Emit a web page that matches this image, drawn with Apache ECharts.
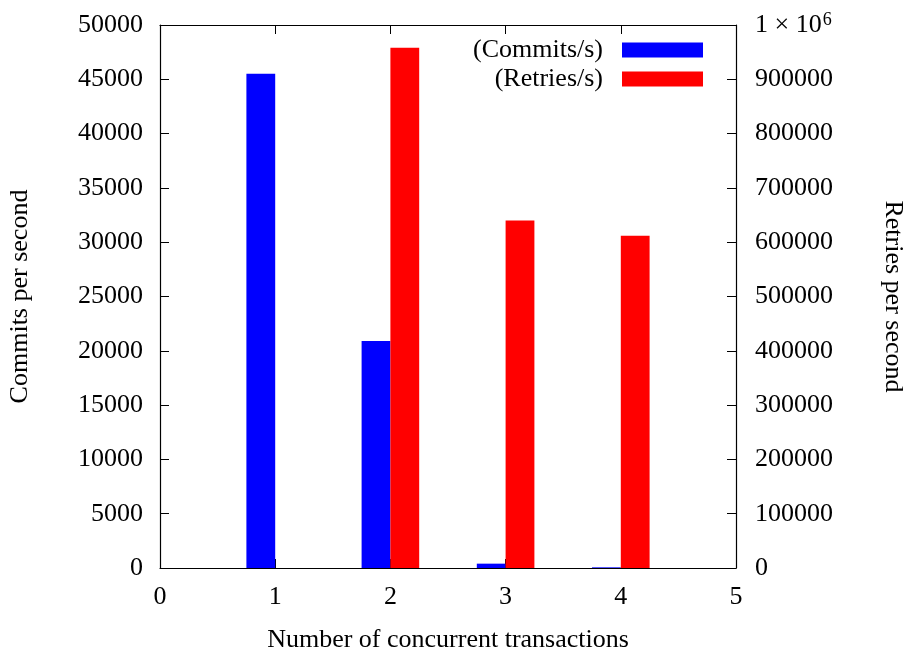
<!DOCTYPE html>
<html>
<head>
<meta charset="utf-8">
<script src="https://cdn.jsdelivr.net/npm/echarts@6/dist/echarts.min.js"></script>
<style>html,body{margin:0;padding:0;background:#fff}#c{width:909px;height:654px}</style>
</head>
<body>
<div id="c"></div>
<script>
const xs = [1, 2, 3, 4];
const commits = [45500, 20900, 400, 60];
const retries = [0, 958000, 640000, 612000];
const xTickLabels = ['0', '1', '2', '3', '4', '5'];

const FONT = "'Liberation Serif', 'DejaVu Serif', serif";
const FS = 26;
const chart = echarts.init(document.getElementById('c'));

function barRenderer(offset) {
  return function (params, api) {
    const x = api.value(0), v = api.value(1);
    if (!(v > 0)) return null;
    const p0 = api.coord([x + offset, v]);
    const p1 = api.coord([x + offset + 0.25, 0]);
    return {
      type: 'rect',
      shape: { x: p0[0], y: p0[1], width: p1[0] - p0[0], height: p1[1] - p0[1] },
      style: { fill: api.visual('color') }
    };
  };
}

function axisLine() { return { show: true, onZero: false, lineStyle: { color: '#000', width: 1.2 } }; }
function tick() { return { show: true, inside: true, length: 9, lineStyle: { color: '#000', width: 1 } }; }

chart.setOption({
  animation: false,
  backgroundColor: '#fff',
  textStyle: { fontFamily: FONT },
  grid: { left: 160, right: 173, top: 25, bottom: 86, containLabel: false, outerBoundsMode: 'none' },
  legend: [
    {
      data: ['(Commits/s)'], right: 206, top: 37, padding: 0, icon: 'rect', itemWidth: 81, itemHeight: 15, align: 'right',
      textStyle: { fontFamily: FONT, fontSize: FS, color: '#000', padding: [0, 14, 0, 0] }
    },
    {
      data: ['(Retries/s)'], right: 206, top: 66, padding: 0, icon: 'rect', itemWidth: 81, itemHeight: 15, align: 'right',
      textStyle: { fontFamily: FONT, fontSize: FS, color: '#000', padding: [0, 14, 0, 0] }
    }
  ],
  xAxis: [
    {
      type: 'value', min: 0, max: 5, interval: 1, position: 'bottom',
      name: 'Number of concurrent transactions', nameLocation: 'middle', nameGap: 59,
      nameTextStyle: { fontFamily: FONT, fontSize: FS, color: '#000' },
      axisLine: axisLine(), axisTick: tick(), splitLine: { show: false },
      axisLabel: { margin: 16, fontFamily: FONT, fontSize: FS, color: '#000',
        formatter: function (v) { return xTickLabels[Math.round(v)]; } }
    },
    {
      type: 'value', min: 0, max: 5, interval: 1, position: 'top',
      axisLine: axisLine(), axisTick: tick(), splitLine: { show: false }, axisLabel: { show: false }
    }
  ],
  yAxis: [
    {
      type: 'value', min: 0, max: 50000, interval: 5000, position: 'left',
      name: 'Commits per second', nameLocation: 'middle', nameGap: 127, nameRotate: 90,
      nameTextStyle: { fontFamily: FONT, fontSize: FS, color: '#000' },
      axisLine: axisLine(), axisTick: tick(), splitLine: { show: false },
      axisLabel: { margin: 17, fontFamily: FONT, fontSize: FS, color: '#000',
        formatter: function (v) { return String(v); } }
    },
    {
      type: 'value', min: 0, max: 1000000, interval: 100000, position: 'right',
      name: 'Retries per second', nameLocation: 'middle', nameGap: 144, nameRotate: -90,
      nameTextStyle: { fontFamily: FONT, fontSize: FS, color: '#000' },
      axisLine: axisLine(), axisTick: tick(), splitLine: { show: false },
      axisLabel: {
        margin: 19, fontFamily: FONT, fontSize: FS, color: '#000',
        formatter: function (v) { return v === 1000000 ? '{a|1 × 10}{s|6}' : String(v); },
        rich: {
          a: { fontFamily: FONT, fontSize: FS, color: '#000' },
          s: { fontFamily: FONT, fontSize: 18, color: '#000', verticalAlign: 'top', padding: [0, 0, 10, 1] }
        }
      }
    }
  ],
  series: [
    {
      name: '(Commits/s)', type: 'custom', xAxisIndex: 0, yAxisIndex: 0,
      itemStyle: { color: '#0000ff' },
      renderItem: barRenderer(-0.25),
      data: xs.map((x, i) => [x, commits[i]])
    },
    {
      name: '(Retries/s)', type: 'custom', xAxisIndex: 0, yAxisIndex: 1,
      itemStyle: { color: '#ff0000' },
      renderItem: barRenderer(0),
      data: xs.map((x, i) => [x, retries[i]])
    }
  ]
});
</script>
</body>
</html>
